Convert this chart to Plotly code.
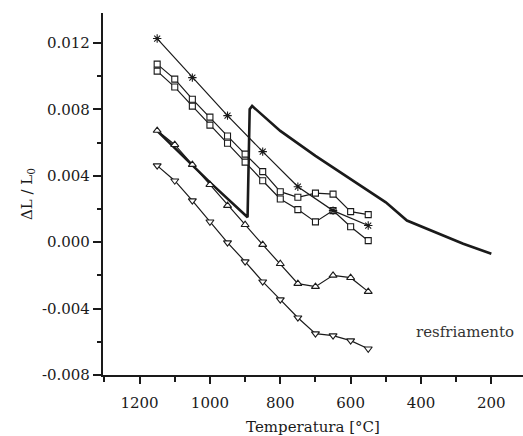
import plotly.graph_objects as go

# Data
T50 = [1150, 1100, 1050, 1000, 950, 900, 850, 800, 750, 700, 650, 600, 550]
T100 = [1150, 1050, 950, 850, 750, 650, 550]

star_vals = [0.01226, 0.00991, 0.00762, 0.00545, 0.00334, 0.00190, 0.00100]
sq_upper = [0.01072, 0.00982, 0.00861, 0.00753, 0.00639, 0.00530, 0.00425,
            0.00304, 0.00270, 0.00295, 0.00289, 0.00184, 0.00166]
sq_lower = [0.01030, 0.00934, 0.00819, 0.00705, 0.00596, 0.00482, 0.00370,
            0.00260, 0.00196, 0.00122, 0.00190, 0.00093, 0.00009]
tri_up = [0.00672, 0.00587, 0.00467, 0.00346, 0.00220, 0.00105, -0.00015,
          -0.00130, -0.00250, -0.00268, -0.00200, -0.00214, -0.00298]
tri_down = [0.00461, 0.00370, 0.00250, 0.00123, -0.00003, -0.00117, -0.00238,
            -0.00346, -0.00455, -0.00551, -0.00563, -0.00593, -0.00642]

thick_T = [1150, 1000, 893, 887, 880, 800, 700, 600, 500, 440, 350, 280, 200]
thick_v = [0.0067, 0.0036, 0.0015, 0.0080, 0.0082, 0.0067, 0.0052, 0.0038,
           0.0024, 0.0013, 0.0005, -0.0001, -0.0007]

y_ticks = [-0.008, -0.004, 0.000, 0.004, 0.008, 0.012]
y_ticktext = ["-0.008", "-0.004", "0.000", "0.004", "0.008", "0.012"]
x_ticks = [1200, 1000, 800, 600, 400, 200]

FONT = "DejaVu Serif"
INK = "#1a1a1a"

fig = go.Figure()

def add_series(x, y, symbol, size=6.5):
    fig.add_trace(go.Scatter(
        x=x, y=y, mode="lines+markers",
        line=dict(color=INK, width=1.2),
        marker=dict(symbol=symbol, size=size, color="white",
                    line=dict(color=INK, width=1.1)),
        showlegend=False))

fig.add_trace(go.Scatter(x=thick_T, y=thick_v, mode="lines",
                         line=dict(color=INK, width=2.6), showlegend=False))
add_series(T50, tri_up, "triangle-up", 7)
add_series(T50, tri_down, "triangle-down", 7)
add_series(T50, sq_lower, "square", 6)
add_series(T50, sq_upper, "square", 6)
fig.add_trace(go.Scatter(
    x=T100, y=star_vals, mode="lines+markers",
    line=dict(color=INK, width=1.2),
    marker=dict(symbol="asterisk-open", size=7, color=INK,
                line=dict(color=INK, width=1.1)),
    showlegend=False))

fig.add_annotation(x=275, y=-0.00541, text="resfriamento", showarrow=False,
                   font=dict(family=FONT, size=15, color="#333"))

fig.update_layout(
    width=523, height=436,
    margin=dict(l=103, r=0, t=13, b=61),
    paper_bgcolor="white", plot_bgcolor="white",
    font=dict(family=FONT, color=INK, size=14),
)
fig.update_xaxes(
    range=[1304, 110], tickvals=x_ticks, showgrid=False, zeroline=False,
    showline=True, linecolor=INK, linewidth=2.2,
    ticks="outside", ticklen=7, tickwidth=2, tickcolor=INK,
    minor=dict(dtick=100, tick0=0, ticks="outside", ticklen=5, tickwidth=2, tickcolor=INK),
    tickfont=dict(family=FONT, size=15, color=INK), ticklabelstandoff=6,
    title=dict(text="Temperatura [°C]", font=dict(family=FONT, size=15, color=INK), standoff=10),
)
fig.update_yaxes(
    range=[-0.008, 0.0138], tickvals=y_ticks, ticktext=y_ticktext,
    showgrid=False, zeroline=False,
    showline=True, linecolor=INK, linewidth=2.2,
    ticks="outside", ticklen=8, tickwidth=2, tickcolor=INK,
    minor=dict(dtick=0.002, tick0=0, ticks="outside", ticklen=4, tickwidth=2, tickcolor=INK),
    tickfont=dict(family=FONT, size=15, color=INK),
    title=dict(text="ΔL / L<sub>0</sub>", font=dict(family=FONT, size=15, color=INK), standoff=6),
)

fig.write_html("out.html")
